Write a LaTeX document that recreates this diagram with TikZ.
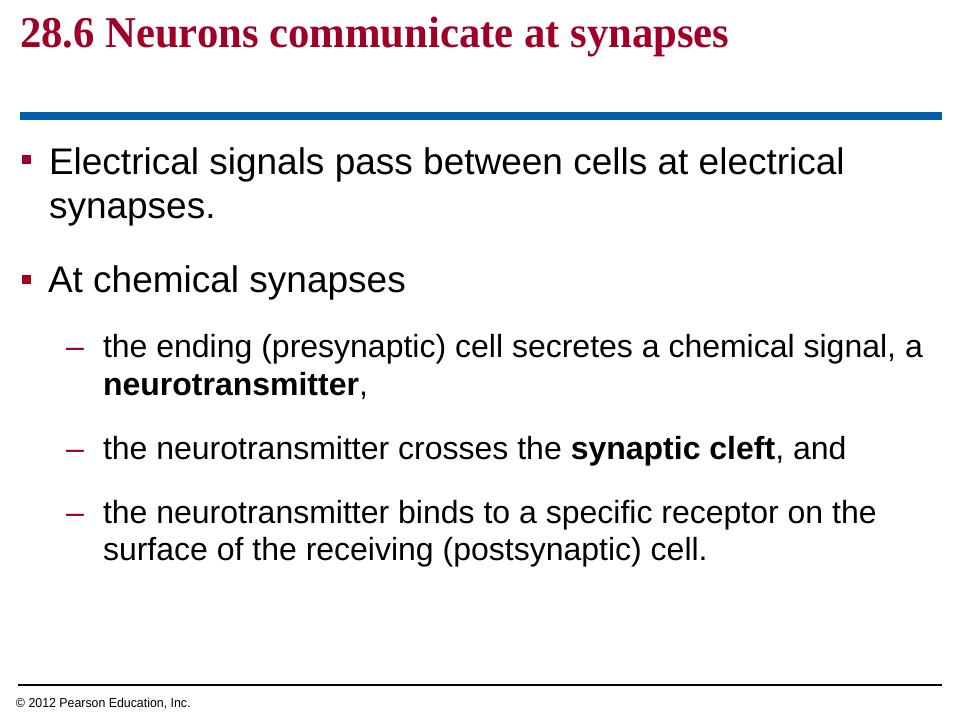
\documentclass[tikz,border=0pt]{standalone}
\usepackage{fontspec}
\setmainfont{Liberation Sans}
\newfontfamily\titlefont{Liberation Serif}
\definecolor{titlered}{RGB}{160,0,40}
\definecolor{barblue}{RGB}{0,94,172}
\begin{document}
\begin{tikzpicture}[x=1pt,y=-1pt,
  txt/.style={anchor=base west, inner sep=0pt, outer sep=0pt},
  lvlone/.style={txt, font=\fontsize{37}{44}\selectfont},
  lvltwo/.style={txt, font=\fontsize{32}{38}\selectfont},
  sqbullet/.style={fill=titlered, draw=none},
  dashmark/.style={txt, text=titlered, font=\fontsize{32}{38}\selectfont}]
\useasboundingbox (0,0) rectangle (960,720);
\fill[white] (0,0) rectangle (960,720);
% title
\node[txt, text=titlered, font=\titlefont\bfseries\fontsize{44}{50}\selectfont] (title) at (20,47) {\scalebox{0.97}[1]{28.6 Neurons communicate at synapses}};
% blue bar
\fill[barblue] (20,112) rectangle (942,120);
% bullet 1
\fill[sqbullet] (22,155) rectangle (31,164);
\node[lvlone] (b1a) at (49,174) {Electrical signals pass between cells at electrical};
\node[lvlone] (b1b) at (49,218) {synapses.};
% bullet 2
\fill[sqbullet] (22,275) rectangle (31,284);
\node[lvlone] (b2) at (48,292) {At chemical synapses};
% sub bullets
\node[dashmark] (d1) at (66,357) {--};
\node[lvltwo] (s1a) at (103,357) {the ending (presynaptic) cell secretes a chemical signal, a};
\node[lvltwo] (s1b) at (103,395) {\textbf{neurotransmitter},};
\node[dashmark] (d2) at (66,459) {--};
\node[lvltwo] (s2) at (103,459) {the neurotransmitter crosses the \textbf{synaptic cleft}, and};
\node[dashmark] (d3) at (66,523) {--};
\node[lvltwo] (s3a) at (103,523) {the neurotransmitter binds to a specific receptor on the};
\node[lvltwo] (s3b) at (103,560) {surface of the receiving (postsynaptic) cell.};
% footer
\fill[black] (18,684) rectangle (942,686);
\node[txt, font=\fontsize{13}{15}\selectfont] (foot) at (16,707) {\scalebox{0.95}[1]{\copyright{} 2012 Pearson Education, Inc.}};
\end{tikzpicture}
\end{document}
